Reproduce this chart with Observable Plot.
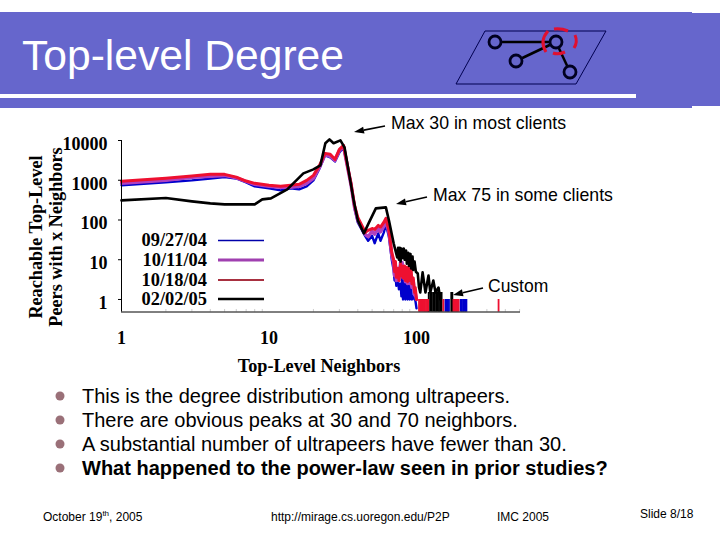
<!DOCTYPE html>
<html><head><meta charset="utf-8">
<script src="https://cdn.jsdelivr.net/npm/d3@7"></script>
<script src="https://cdn.jsdelivr.net/npm/@observablehq/plot@0.6"></script>
<style>
html,body{margin:0;padding:0;background:#fff;overflow:hidden}
#slide{position:relative;width:720px;height:540px;font-family:"Liberation Sans",Arial,sans-serif;color:#000}
#slide>*{position:absolute}
.t{white-space:nowrap;line-height:1}
</style></head><body>
<div id="slide"></div>
<script>
const curveX=[1,2,3,4,5,6,7,8,10,12,14,16,18,20,22,24,26,28,30,32,34,36,38,40,45,47,50,52,55,57,60,62,65,68,70,71,72,73,75,76,78,79,80,81,83,84,86,87,89,90,92,93,95,97,98,100];
const blueY=[750,885,990,1100,1200,1110,885,700,625,557,625,590,700,990,1980,4230,3760,2980,5000,6740,2230,835,196,87,38.6,30,40,26,46,30,48,77,38,10,5.4,3,4,2.2,3,1.8,2.5,1.2,4,1,4,1,4,1,3,1,2,1,1.2,1,1,0.6];
const purpleY=[840,990,1180,1250,1320,1150,930,790,700,662,662,700,835,1110,2130,4490,4000,3160,5600,7100,2230,745,208,98,43,38,52,44,61,50,69,98,48,13,8,4,7,3,6,3,9,4,8.5,3.5,6,2.8,5,2.5,5,2.5,4,2,3,1.3,1.5,1];
const redY=[938,1116,1276,1408,1408,1200,955,835,746,702,746,789,994,1324,2370,4750,4490,3360,6000,7570,2370,835,233,116,48.7,55,61,58,73,66,87,110,55,15,10,5,9,3.6,6,3,8,4,7,3.5,7,3,6.5,2.8,6,3,6,2.5,3.5,1.5,2,1];
const blackX=[1,2,3,4,5,6,7,8,9,10.3,13.3,17.1,20,22.3,24.1,25.7,27.4,30.5,32.5,34.6,37.5,40,44,47.3,53,62,65,70,74,75,76,77,78,79,80,82,83,85,86,88,89,91,92,94,95,97,99,102,104,106,110,115,120.6,124,130,134.6,141,145];
const blackY=[312,356,294,262,247,247,247,247,330,350,590,1490,1880,2370,8500,10700,8500,10100,6740,1770,312,98,46,82,196,208,98,25.8,11.4,20,10,20,9,19,11,19,10,17,8,15,7,14,6,12,5.5,9,5,4.5,2,1.5,4.8,1.5,4,1.5,3,1.5,2,1];
const tailRedX=[104,106,108,110,112,114,116,118,120,152,178,181,184,187,190,193,360];
const tailBlueX=[157,160,163,166,199,203,207,211,215,218];
const tailBlackX=[121,124,127,130,133,136,139,142,145,148,172,175];
const yTicks=[1,10,100,1000,10000];
const xTicks=[1,10,100];
const xMinor=[2,3,4,5,6,7,8,9,20,30,40,50,60,70,80,90,200,300,400,500];
const legendNames=["09/27/04","10/11/04","10/18/04","02/02/05"];
const legendColors=["#0000aa","#a040b0","#a83040","#000000"];
const legendWidths=[1.5,3,2,2.5];
const bullets=["This is the degree distribution among ultrapeers.","There are obvious peaks at 30 and 70 neighbors.","A substantial number of ultrapeers have fewer than 30.","What happened to the power-law seen in prior studies?"];

const yMin=0.484, band="#6666cc";
const slide=document.getElementById("slide");
const box=(l,t,w,h,c)=>{const d=document.createElement("div");d.style.cssText=`left:${l}px;top:${t}px;width:${w}px;height:${h}px;background:${c}`;slide.append(d);};
const text=(s,l,t,size,extra="")=>{const d=document.createElement("div");d.className="t";d.style.cssText=`left:${l}px;top:${t}px;font-size:${size}px;${extra}`;d.innerHTML=s;slide.append(d);};
box(0,12,692,96,band);box(692,13,28,93,band);box(0,94,636,4,"#fff");

const serif={fontFamily:"Liberation Serif",fontWeight:"bold"};
const pts=(y,x=curveX)=>x.map((d,i)=>({x:d,y:y[i]}));
const chart=Plot.plot({
  width:720,height:540,marginLeft:121,marginRight:200,marginTop:140,marginBottom:228.5,
  style:{background:"transparent",...serif,fontSize:"18px",color:"#000"},
  x:{type:"log",domain:[1,507]},
  y:{type:"log",domain:[yMin,10000]},
  marks:[
    Plot.ruleX(xMinor,{y1:yMin,y2:0.56,stroke:"#ccc",strokeWidth:1}),
    Plot.ruleX(tailBlueX,{y1:yMin,y2:1,stroke:"#0000cc",strokeWidth:1.8}),
    Plot.line(pts(blueY),{x:"x",y:"y",stroke:"#0000cc",strokeWidth:2.4}),
    Plot.line(pts(purpleY),{x:"x",y:"y",stroke:"#b040c0",strokeWidth:3.4}),
    Plot.ruleX(tailBlackX,{y1:yMin,y2:1.5,stroke:"#000",strokeWidth:1.8}),
    Plot.line(pts(redY),{x:"x",y:"y",stroke:"#ee1030",strokeWidth:3}),
    Plot.ruleX(tailRedX,{y1:yMin,y2:1,stroke:"#ee1030",strokeWidth:1.8}),
    Plot.line(pts(blackY,blackX),{x:"x",y:"y",stroke:"#000",strokeWidth:2.6}),
    Plot.ruleX([1],{stroke:"#000",strokeWidth:1}),
    Plot.ruleY([yMin],{stroke:"#000",strokeWidth:1}),
    Plot.axisY({ticks:yTicks,tickSize:3,text:null,label:null}),
    Plot.axisY({ticks:yTicks,tickFormat:d=>String(d),tickSize:0,tickPadding:14,dy:3.5,label:null,fontSize:18,fontWeight:"bold"}),
    Plot.axisX({ticks:xTicks,tickFormat:d=>String(d),tickSize:0,tickPadding:19,label:null,fontSize:18,fontWeight:"bold"})
  ]
});
chart.style.left="0";chart.style.top="0";
slide.append(chart);

const ov=d3.select(slide).append("svg").attr("width",720).attr("height",540).style("left","0").style("top","0").style("pointer-events","none");
ov.append("path").attr("d","M485,31L606,31L576,84L456,84Z").attr("fill","none").attr("stroke","#000050").attr("stroke-width",1);
[[495,42,556,42],[516,61,556,42],[556,42,570,72]].forEach(e=>ov.append("line").attr("x1",e[0]).attr("y1",e[1]).attr("x2",e[2]).attr("y2",e[3]).attr("stroke","#000").attr("stroke-width",2.5));
[[495,42],[516,61],[556,42],[570,72]].forEach(c=>ov.append("circle").attr("cx",c[0]).attr("cy",c[1]).attr("r",6).attr("fill",band).attr("stroke","#000020").attr("stroke-width",2.8));
["M548,31Q539,41 546,52","M554,29Q561,28 568,31","M575,35Q578,42 574,48","M553,53Q558,55 565,52"].forEach(d=>ov.append("path").attr("d",d).attr("fill","none").attr("stroke","#e01030").attr("stroke-width",3));
const arrow=(x1,y1,x2,y2)=>{
  const a=Math.atan2(y2-y1,x2-x1),l=10,w=3.5;
  const bx=x2-l*Math.cos(a),by=y2-l*Math.sin(a);
  ov.append("line").attr("x1",x1).attr("y1",y1).attr("x2",bx).attr("y2",by).attr("stroke","#000").attr("stroke-width",1.6);
  ov.append("path").attr("d",`M${x2},${y2}L${bx-w*Math.sin(a)},${by+w*Math.cos(a)}L${bx+w*Math.sin(a)},${by-w*Math.cos(a)}Z`).attr("fill","#000");
};
arrow(385,126,354,132);arrow(427,197,396,204);arrow(483,288,453,295);
legendNames.forEach((n,i)=>{
  const y=[240.5,260,280,299][i];
  ov.append("line").attr("x1",218).attr("x2",264).attr("y1",y).attr("y2",y).attr("stroke",legendColors[i]).attr("stroke-width",legendWidths[i]);
  ov.append("text").attr("x",207).attr("y",y+5.5).attr("text-anchor","end").attr("font-family","Liberation Serif").attr("font-weight","bold").attr("font-size",18.4).text(n);
});
const ylab=(s,x)=>ov.append("text").attr("transform",`translate(${x},237) rotate(-90)`).attr("text-anchor","middle").attr("font-family","Liberation Serif").attr("font-weight","bold").attr("font-size",18.2).text(s);
ylab("Reachable Top-Level",42);ylab("Peers with x Neighbors",62);
ov.append("text").attr("x",319).attr("y",372).attr("text-anchor","middle").attr("font-family","Liberation Serif").attr("font-weight","bold").attr("font-size",18.2).text("Top-Level Neighbors");
[396,420,444,468].forEach(y=>ov.append("circle").attr("cx",60).attr("cy",y).attr("r",4.5).attr("fill","#9a7078"));

text("Top-level Degree",22,34,42.6,"color:#fff");
text("Max 30 in most clients",391,115,17.7);
text("Max 75 in some clients",433,187,17.7);
text("Custom",488,278,17.5);
bullets.forEach((b,i)=>text(b,82,386+i*24,20,i==3?"font-weight:bold":""));
text("October 19<sup style='font-size:8px;line-height:0'>th</sup>, 2005",43,511,12);
text("http://mirage.cs.uoregon.edu/P2P",271,511,12);
text("IMC 2005",497,511,12);
text("Slide 8/18",640,508,12);
</script>
</body></html>
